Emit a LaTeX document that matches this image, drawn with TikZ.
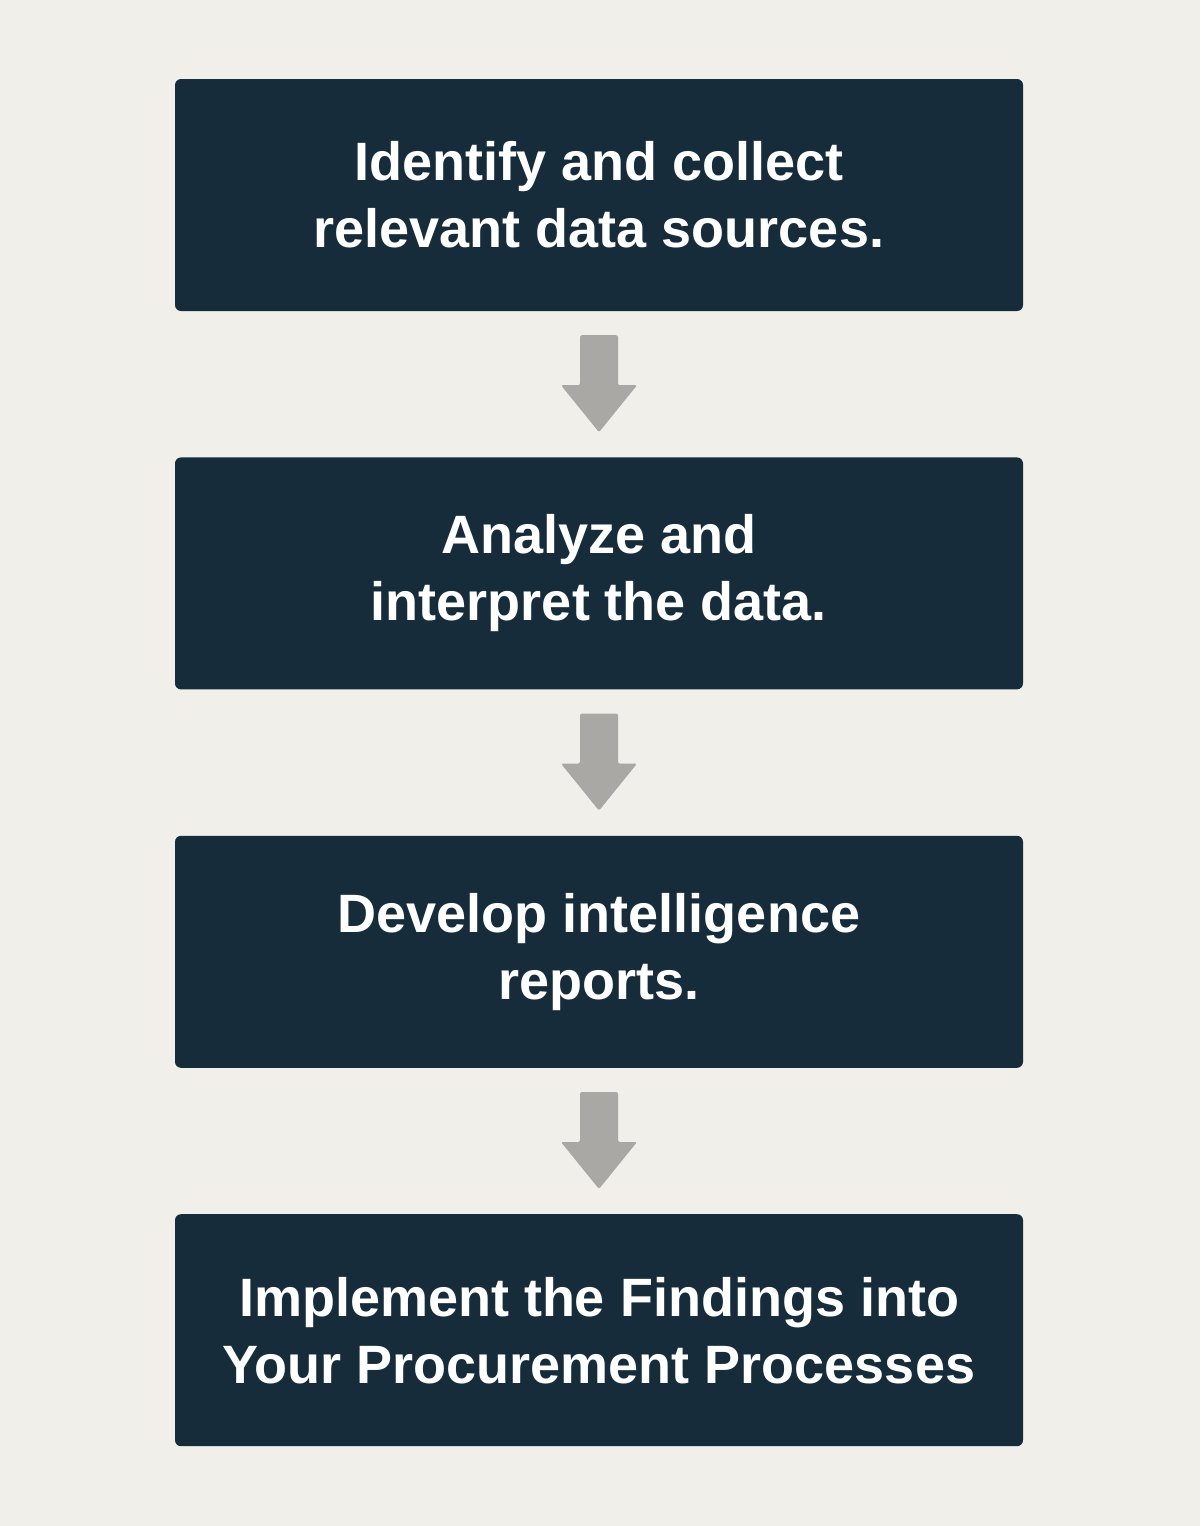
\documentclass[tikz,border=0pt]{standalone}
\usepackage{fontspec}
\setmainfont{Liberation Sans}
\usepackage{tikz}
\usetikzlibrary{calc, positioning}
\definecolor{pagebg}{HTML}{F0EFEA}
\definecolor{stepnavy}{HTML}{172C3A}
\definecolor{arrowgrey}{HTML}{A9A8A4}

\begin{document}
\begin{tikzpicture}[x=1pt, y=1pt, node distance=146pt,
    stepbox/.style={fill=stepnavy, rounded corners=6pt, minimum width=848pt, minimum height=232pt,
      text width=820pt, align=flush center, text=white, inner sep=0pt,
      font=\bfseries\fontsize{54}{67}\selectfont},
    flowarrow/.style={fill=arrowgrey, rounded corners=2pt}]
    \fill[pagebg] (0,0) rectangle (1200,-1526);
    \useasboundingbox (0,0) rectangle (1200,-1526);
    \node[stepbox] (s1) at (599,-195) {Identify and collect\\relevant data sources.};
    \node[stepbox, below=of s1] (s2) {Analyze and\\interpret the data.};
    \node[stepbox, below=of s2] (s3) {Develop intelligence\\reports.};
    \node[stepbox, below=of s3] (s4) {Implement the Findings into\\Your Procurement Processes};
    % block arrows between the steps
    \foreach \a/\b in {s1/s2, s2/s3, s3/s4} {
      \path (\a.south) -- (\b.north) coordinate[pos=0.5] (m);
      \fill[flowarrow] ($(m)+(-19,-1)$) -- ($(m)+(-19,49)$) -- ($(m)+(19,49)$) -- ($(m)+(19,-1)$)
        -- ($(m)+(38,-1)$) -- ($(m)+(0,-48)$) -- ($(m)+(-38,-1)$) -- cycle;
    }
\end{tikzpicture}
\end{document}
